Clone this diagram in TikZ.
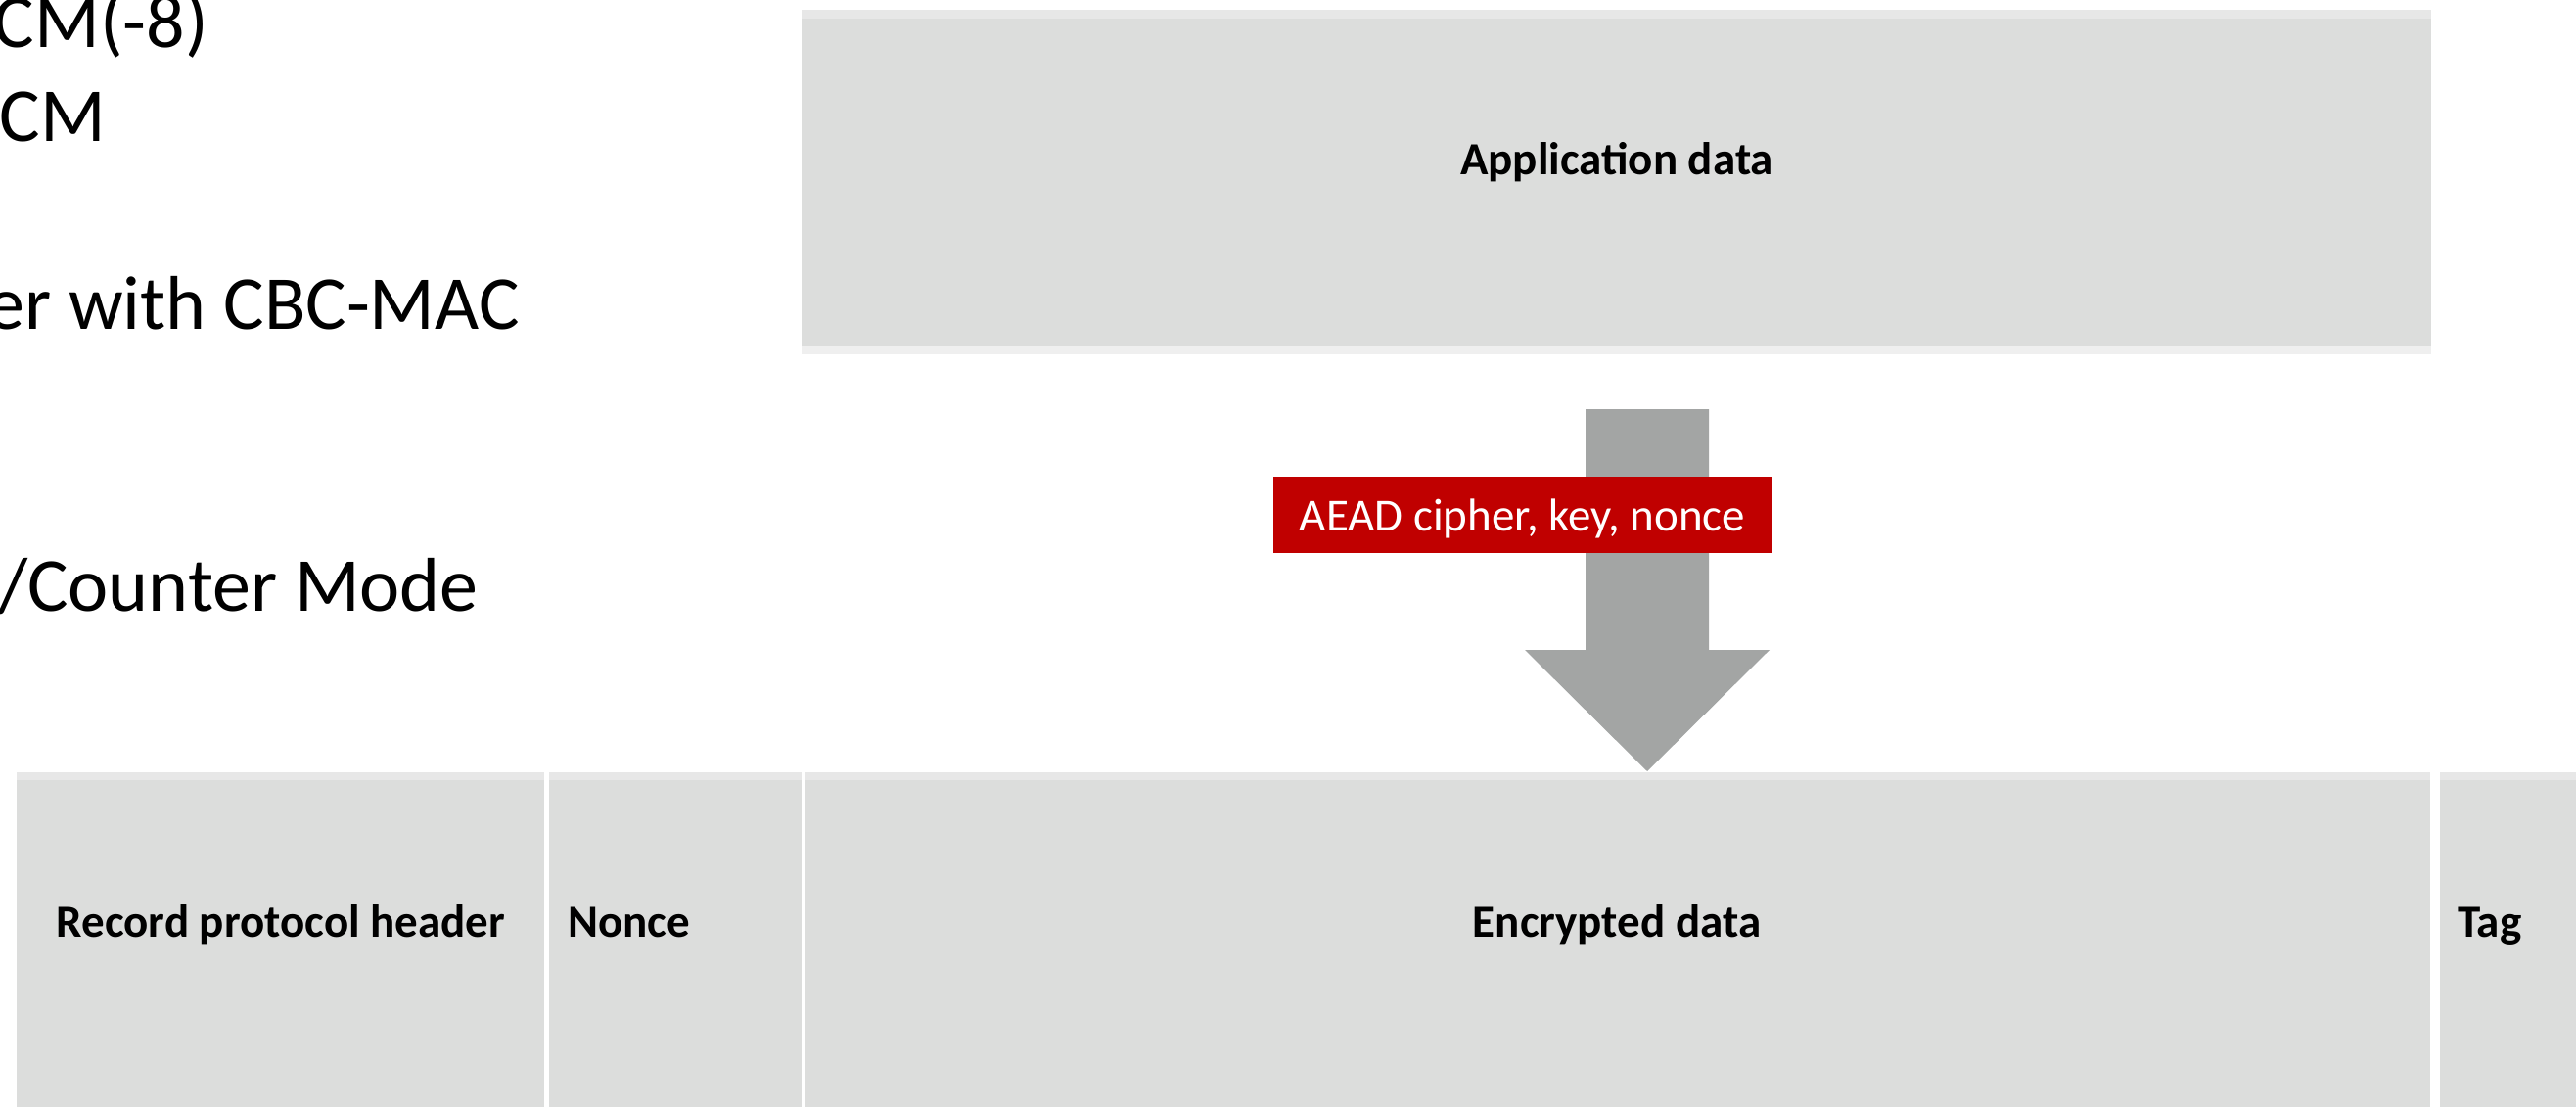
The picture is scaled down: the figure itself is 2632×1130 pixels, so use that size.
\documentclass[tikz,border=0pt]{standalone}
\usepackage{fontspec}
\setmainfont{Carlito}
\definecolor{cellgray}{HTML}{DCDDDC}
\definecolor{bandtop}{HTML}{E7E7E7}
\definecolor{bandbot}{HTML}{EFEFEF}
\definecolor{arrowgray}{HTML}{A3A5A4}
\definecolor{aeadred}{HTML}{C00000}
\begin{document}
\begin{tikzpicture}[x=1pt,y=-1pt,
  cell/.style={draw=none,fill=cellgray,inner sep=0pt,outer sep=0pt,anchor=north west},
  lbl/.style={font=\fontsize{47}{56}\selectfont\bfseries,inner sep=0pt},
  side/.style={font=\fontsize{78}{94}\selectfont,anchor=base east,inner sep=0pt}]
\useasboundingbox (0,0) rectangle (2632,1130);
\clip (0,0) rectangle (2632,1130);
\fill[white] (0,0) rectangle (2632,1130);

% left-hand text (cut off at the left edge)
\node[side] (l1) at (213,48) {CM(-8)};
\node[side] (l2) at (108,144) {CM};
\node[side] (l3) at (531,336) {er with CBC-MAC};
\node[side] (l4) at (489,624) {/Counter Mode};

% top box
\node[cell,minimum width=1665pt,minimum height=352pt] (app) at (819,10) {};
\fill[bandtop] (819,10) rectangle (2484,19);
\fill[bandbot] (819,354) rectangle (2484,362);
\node[lbl,anchor=base] (applbl) at (1652,178) {Application data};

% big arrow
\coordinate (atop) at (1683,418);
\coordinate (atip) at (1683,788);
\fill[arrowgray] (1620,418) -- (1746,418) -- (1746,664) -- (1808,664) -- (atip)
  -- (1558,664) -- (1620,664) -- cycle;

% red label
\node[fill=aeadred,text=white,font=\fontsize{47}{56}\selectfont,
  minimum width=510pt,minimum height=78pt,inner sep=0pt,
  text height=32pt,text depth=0pt] (aead) at (1555.5,526) {AEAD cipher, key, nonce};

% bottom boxes
\node[cell,minimum width=539pt,minimum height=360pt] (hdr) at (17,789) {};
\node[cell,minimum width=258pt,minimum height=360pt] (nonce) at (561,789) {};
\node[cell,minimum width=1660pt,minimum height=360pt] (enc) at (823,789) {};
\node[cell,minimum width=150pt,minimum height=360pt] (tag) at (2493,789) {};
\fill[bandtop] (17,789) rectangle (556,797);
\fill[bandtop] (561,789) rectangle (819,797);
\fill[bandtop] (823,789) rectangle (2483,797);
\fill[bandtop] (2493,789) rectangle (2640,797);

\node[lbl,anchor=base] (hdrlbl) at (287,957) {Record protocol header};
\node[lbl,anchor=base west] (noncelbl) at (580,957) {Nonce};
\node[lbl,anchor=base] (enclbl) at (1652,957) {Encrypted data};
\node[lbl,anchor=base west] (taglbl) at (2511,957) {Tag};
\end{tikzpicture}
\end{document}
